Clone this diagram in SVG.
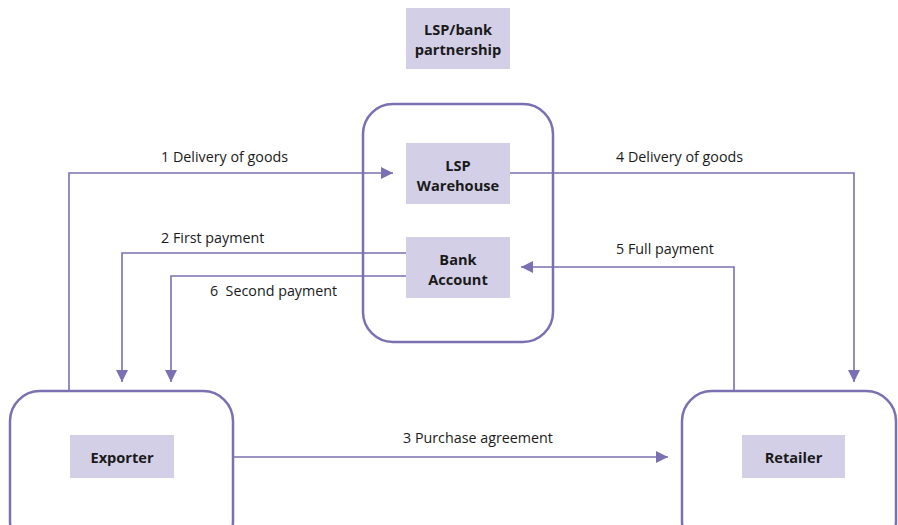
<svg xmlns="http://www.w3.org/2000/svg" width="898" height="525" viewBox="0 0 898 525">
<defs>
<style>
.frame{fill:#fff;stroke:#7b70b1;stroke-width:2.5}
.box{fill:#d3cfe6}
.lbl{font-family:"Open Sans","Liberation Sans",sans-serif;font-size:14.6px;font-weight:bold;fill:#1a1a1a;text-anchor:middle}
.cap{font-family:"Open Sans","Liberation Sans",sans-serif;font-size:14.3px;fill:#1a1a1a}
.con{fill:none;stroke:#7b70b1;stroke-width:1.6}
</style>
<marker id="ah" markerWidth="12" markerHeight="12" viewBox="0 0 12 12" refX="12" refY="6" orient="auto" markerUnits="userSpaceOnUse">
<path d="M0,0 L12,6 L0,12 z" fill="#7b70b1"/>
</marker>
</defs>
<rect width="898" height="525" fill="#fff"/>
<g id="partnership">
<rect class="box" x="406" y="8" width="104" height="61"/>
<text class="lbl" x="458" y="35">LSP/bank</text>
<text class="lbl" x="458" y="55">partnership</text>
</g>
<g id="lsp-group">
<rect class="frame" x="363" y="104" width="190" height="238" rx="30"/>
</g>
<g id="exporter">
<rect class="frame" x="10" y="391" width="223" height="160" rx="30"/>
<rect class="box" x="70" y="435" width="104" height="43"/>
<text class="lbl" x="122" y="463">Exporter</text>
</g>
<g id="retailer">
<rect class="frame" x="682" y="391" width="214" height="160" rx="30"/>
<rect class="box" x="742" y="435" width="103" height="43"/>
<text class="lbl" x="793.5" y="463">Retailer</text>
</g>
<g id="connectors">
<path class="con" d="M69,390 V173 H393" marker-end="url(#ah)"/>
<path class="con" d="M406,253 H122 V382" marker-end="url(#ah)"/>
<path class="con" d="M406,276 H171 V382" marker-end="url(#ah)"/>
<path class="con" d="M510,173 H854 V382" marker-end="url(#ah)"/>
<path class="con" d="M734,390 V267 H521" marker-end="url(#ah)"/>
<path class="con" d="M234,457 H668" marker-end="url(#ah)"/>
</g>
<g id="warehouse">
<rect class="box" x="406" y="143" width="104" height="61"/>
<text class="lbl" x="458" y="171">LSP</text>
<text class="lbl" x="458" y="191">Warehouse</text>
</g>
<g id="bank">
<rect class="box" x="406" y="237" width="104" height="61"/>
<text class="lbl" x="458" y="265">Bank</text>
<text class="lbl" x="458" y="285">Account</text>
</g>
<g id="captions">
<text class="cap" x="161" y="162">1 Delivery of goods</text>
<text class="cap" x="161" y="243">2 First payment</text>
<text class="cap" x="210" y="296" xml:space="preserve">6  Second payment</text>
<text class="cap" x="616" y="162">4 Delivery of goods</text>
<text class="cap" x="616" y="254">5 Full payment</text>
<text class="cap" x="403" y="443">3 Purchase agreement</text>
</g>
</svg>
